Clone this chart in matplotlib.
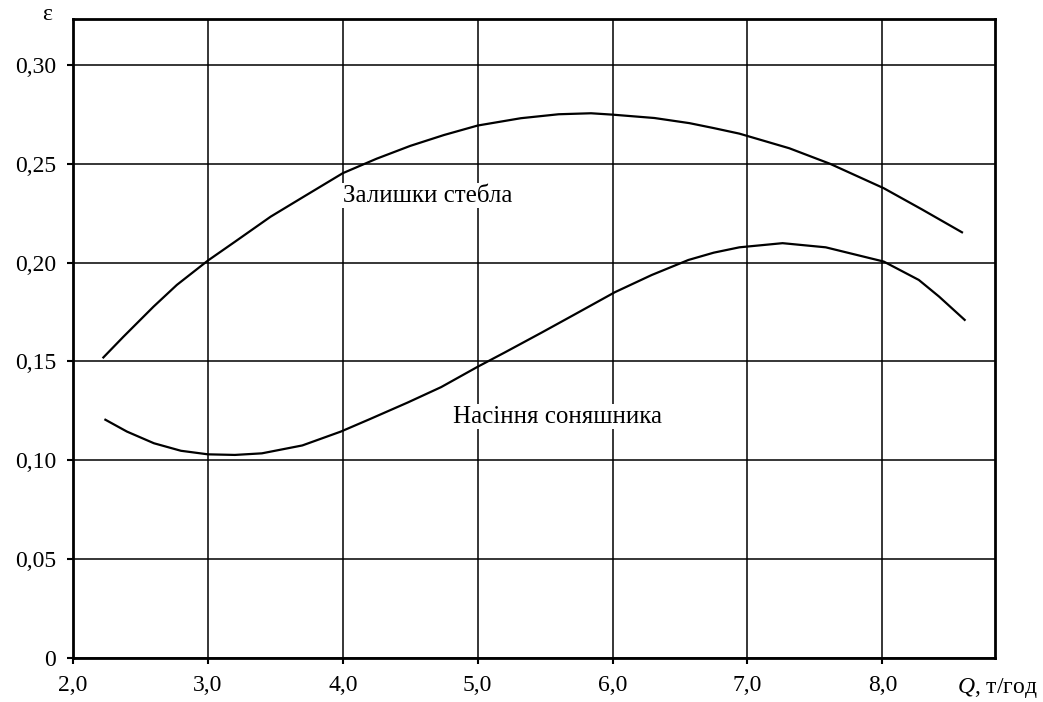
import numpy as np
import matplotlib.pyplot as plt

plt.rcParams['font.family'] = ['Liberation Serif', 'DejaVu Serif']
plt.rcParams['mathtext.fontset'] = 'custom'
plt.rcParams['mathtext.it'] = 'Liberation Serif:italic'
plt.rcParams['mathtext.rm'] = 'Liberation Serif'

# Залишки стебла
q_stem = [2.225, 2.374, 2.597, 2.77, 3.0, 3.2, 3.465, 3.71, 4.0, 4.25, 4.5, 4.75, 5.0, 5.32,
          5.6, 5.84, 6.0, 6.31, 6.57, 6.75, 6.94, 7.31, 7.61, 8.01, 8.29, 8.59]
e_stem = [0.152, 0.1625, 0.1777, 0.1887, 0.201, 0.2105, 0.2232, 0.2333, 0.2452, 0.2525,
          0.2590, 0.2645, 0.2693, 0.2730, 0.2750, 0.2755, 0.2748, 0.2731, 0.2705, 0.2680,
          0.2652, 0.2578, 0.2500, 0.2376, 0.2270, 0.2153]

# Насіння соняшника
q_seed = [2.24, 2.4, 2.6, 2.8, 3.0, 3.2, 3.4, 3.7, 3.985, 4.2, 4.481, 4.729, 5.0, 5.2,
          5.472, 5.72, 6.017, 6.29, 6.562, 6.75, 6.94, 7.26, 7.58, 8.01, 8.27, 8.42, 8.61]
e_seed = [0.1205, 0.1145, 0.1086, 0.1048, 0.1030, 0.1027, 0.1035, 0.1075, 0.1145, 0.1208,
          0.1292, 0.1370, 0.1473, 0.1545, 0.1645, 0.1738, 0.1850, 0.1937, 0.2013, 0.2050,
          0.2077, 0.2098, 0.2077, 0.2005, 0.1912, 0.1828, 0.1710]

x_ticks = [2.0, 3.0, 4.0, 5.0, 6.0, 7.0, 8.0]
y_ticks = [0, 0.05, 0.10, 0.15, 0.20, 0.25, 0.30]
y_labels = ['0', '0,05', '0,10', '0,15', '0,20', '0,25', '0,30']

fig = plt.figure(figsize=(10.43, 7.02), dpi=100)
ax = fig.add_axes([0.070, 0.0627, 0.884, 0.9103])

ax.plot(q_stem, e_stem, color='black', lw=1.6, zorder=3, solid_joinstyle='round')
ax.plot(q_seed, e_seed, color='black', lw=1.6, zorder=3, solid_joinstyle='round')

ax.set_xlim(2.0, 8.835)
ax.set_ylim(0, 0.3232)
ax.set_xticks(x_ticks)
ax.set_xticklabels([f'{v:.1f}'.replace('.', ',') for v in x_ticks])
ax.set_yticks(y_ticks)
ax.set_yticklabels(y_labels)
ax.tick_params(direction='out', length=4, width=1.5, labelsize=17, pad=8, colors='black')
ax.grid(True, color='black', lw=1.1)
ax.set_axisbelow(True)
for s in ax.spines.values():
    s.set_linewidth(2)

box = dict(facecolor='white', edgecolor='none', pad=1)
ax.text(4.628, 0.2337, 'Залишки стебла', fontsize=18, ha='center', va='center', bbox=box, zorder=4)
ax.text(5.59, 0.1219, 'Насіння соняшника', fontsize=18, ha='center', va='center', bbox=box, zorder=4)

fig.text(47 / 1043, 1 - 15 / 702, 'ε', fontsize=17, ha='center', va='center')
fig.text(997 / 1043, 1 - 688 / 702, r'$Q$, т/год', fontsize=17, ha='center', va='center')

fig.savefig('out.png', dpi=100)
